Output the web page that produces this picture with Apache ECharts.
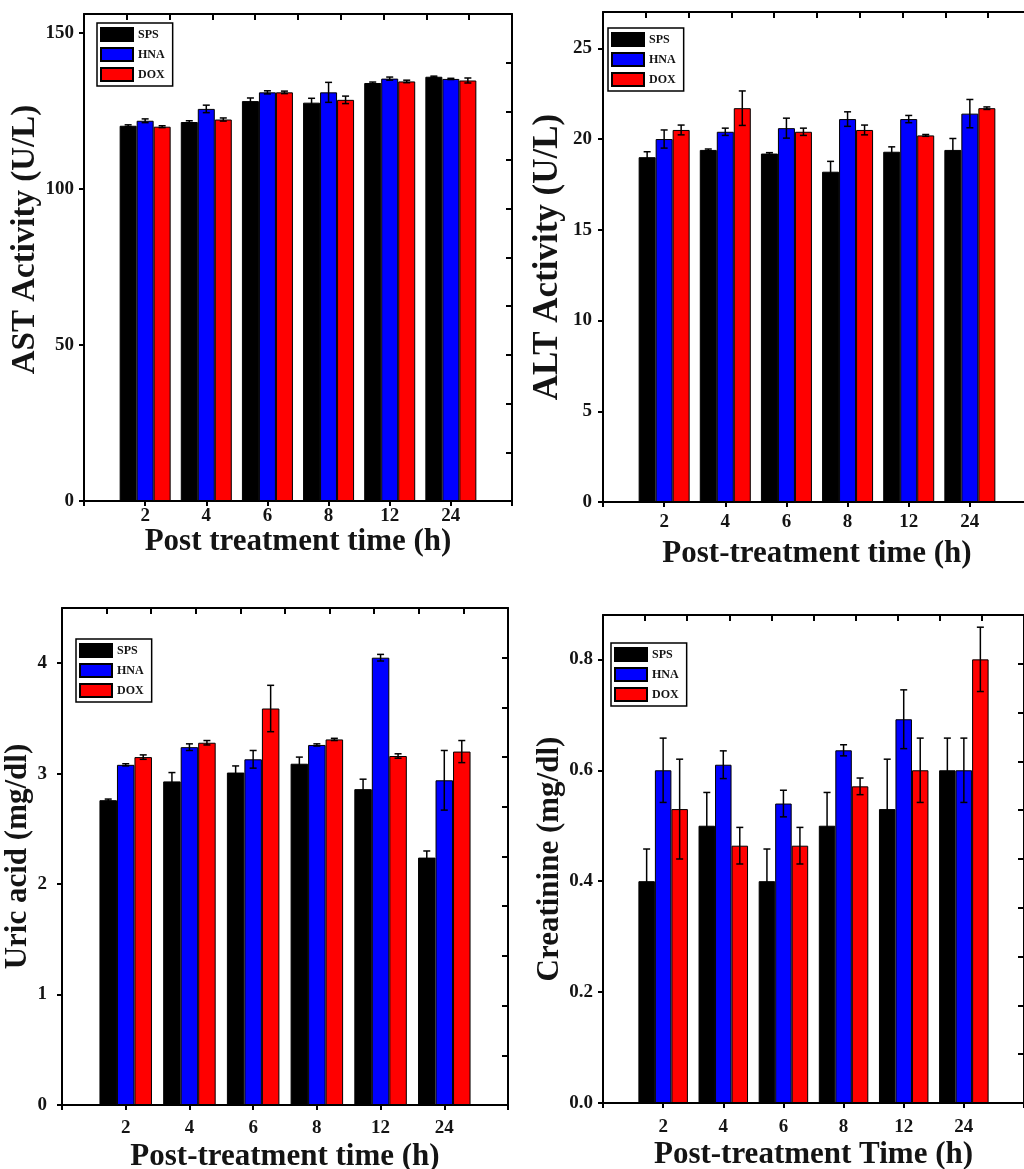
<!DOCTYPE html>
<html><head><meta charset="utf-8">
<script src="https://cdn.jsdelivr.net/npm/echarts@6/dist/echarts.min.js"></script>
<style>html,body{margin:0;padding:0;background:#fff}#c{width:1024px;height:1169px}</style>
</head><body><div id="c"></div>
<script>
// ---- data ----
const categories = ['2', '4', '6', '8', '12', '24'];
const groups = ['SPS', 'HNA', 'DOX'];

const astSPS = [120.2, 121.4, 128.1, 127.6, 133.9, 135.9];
const astHNA = [121.8, 125.6, 130.9, 130.9, 135.3, 135.2];
const astDOX = [119.9, 122.2, 130.9, 128.5, 134.4, 134.7];
const astErrSPS = [0.3, 0.4, 1.0, 1.4, 0.3, 0.2];
const astErrHNA = [0.6, 1.2, 0.5, 3.2, 0.5, 0.2];
const astErrDOX = [0.3, 0.5, 0.4, 1.2, 0.4, 0.8];
const astTicks = [0, 50, 100, 150];

const altSPS = [19.0, 19.4, 19.2, 18.2, 19.3, 19.4];
const altHNA = [20.0, 20.4, 20.6, 21.1, 21.1, 21.4];
const altDOX = [20.5, 21.7, 20.4, 20.5, 20.2, 21.7];
const altErrSPS = [0.3, 0.05, 0.05, 0.57, 0.27, 0.63];
const altErrHNA = [0.5, 0.2, 0.55, 0.4, 0.2, 0.78];
const altErrDOX = [0.27, 0.95, 0.2, 0.27, 0.05, 0.07];
const altTicks = [0, 5, 10, 15, 20, 25];

const uricSPS = [2.76, 2.93, 3.01, 3.09, 2.86, 2.24];
const uricHNA = [3.08, 3.24, 3.13, 3.26, 4.05, 2.94];
const uricDOX = [3.15, 3.28, 3.59, 3.31, 3.16, 3.20];
const uricErrSPS = [0.01, 0.08, 0.06, 0.06, 0.09, 0.06];
const uricErrHNA = [0.01, 0.03, 0.08, 0.01, 0.03, 0.27];
const uricErrDOX = [0.02, 0.02, 0.21, 0.01, 0.02, 0.10];
const uricTicks = [0, 1, 2, 3, 4];

const creatSPS = [0.40, 0.50, 0.40, 0.50, 0.53, 0.60];
const creatHNA = [0.60, 0.61, 0.54, 0.636, 0.692, 0.60];
const creatDOX = [0.53, 0.464, 0.464, 0.571, 0.60, 0.80];
const creatErrSPS = [0.058, 0.06, 0.058, 0.06, 0.09, 0.058];
const creatErrHNA = [0.058, 0.025, 0.024, 0.01, 0.053, 0.058];
const creatErrDOX = [0.09, 0.033, 0.033, 0.015, 0.058, 0.058];
const creatTicks = [0, 0.2, 0.4, 0.6, 0.8];

// frame (top / right) axes: 10 equal divisions
const frameSlots = ['f0', 'f1', 'f2', 'f3', 'f4', 'f5', 'f6', 'f7', 'f8', 'f9', 'f10'];

// ---- style ----
const FONT = '"Liberation Serif", "Times New Roman", serif';
const TXT = '#141414';
const colors = ['#000000', '#0000FF', '#FF0000'];

const panels = [
  { grid: {left: 84, top: 14, width: 428, height: 487}, yMax: 156, ticks: astTicks, dec: 0,
    vals: [astSPS, astHNA, astDOX], errs: [astErrSPS, astErrHNA, astErrDOX],
    yName: 'AST Activity (U/L)', xName: 'Post treatment time (h)', yGap: 36, xGap: 22,
    yFont: 33, yShift: 36,
    xMargin: 6, yMargin: 10, barW: 17, legend: {left: 97, top: 23} },
  { grid: {left: 603, top: 12, width: 428, height: 490}, yMax: 27, ticks: altTicks, dec: 0,
    vals: [altSPS, altHNA, altDOX], errs: [altErrSPS, altErrHNA, altErrDOX],
    yName: 'ALT Activity (U/L)', xName: 'Post-treatment time (h)', yGap: 38, xGap: 36,
    yFont: 35, yShift: 0,
    xMargin: 11, yMargin: 11, barW: 17, legend: {left: 608, top: 28} },
  { grid: {left: 62, top: 608, width: 446, height: 497}, yMax: 4.5, ticks: uricTicks, dec: 0,
    vals: [uricSPS, uricHNA, uricDOX], errs: [uricErrSPS, uricErrHNA, uricErrDOX],
    yName: 'Uric acid (mg/dl)', xName: 'Post-treatment time (h)', yGap: 22, xGap: 36,
    yFont: 31, yShift: 0,
    xMargin: 14, yMargin: 15, barW: 17.5, legend: {left: 76, top: 639} },
  { grid: {left: 603, top: 615, width: 421, height: 488}, yMax: 0.88, ticks: creatTicks, dec: 1,
    vals: [creatSPS, creatHNA, creatDOX], errs: [creatErrSPS, creatErrHNA, creatErrDOX],
    yName: 'Creatinine (mg/dl)', xName: 'Post-treatment Time (h)', yGap: 38, xGap: 36,
    yFont: 31, yShift: 0,
    xMargin: 15, yMargin: 10, barW: 16.5, legend: {left: 611, top: 643} }
];

const axisLine = {show: true, onZero: false, lineStyle: {color: '#000', width: 2}};
const tickStyle = {color: '#000', width: 2};
const labelFont = {fontFamily: FONT, fontWeight: 'bold', fontSize: 19, color: TXT};
const titleFont = {fontFamily: FONT, fontWeight: 'bold', fontSize: 31, color: TXT};

const option = {
  backgroundColor: '#fff', animation: false,
  grid: [], xAxis: [], yAxis: [], legend: [], series: []
};

function errRenderer(offset) {
  return function (params, api) {
    const x = api.value(0), y = api.value(1), e = api.value(2);
    const hi = api.coord([x, y + e]);
    const lo = api.coord([x, y - e]);
    const cx = hi[0] + offset;
    const st = {stroke: '#000', lineWidth: 1.5};
    const cap = 3.5;
    return {type: 'group', children: [
      {type: 'line', shape: {x1: cx, y1: hi[1], x2: cx, y2: lo[1]}, style: st},
      {type: 'line', shape: {x1: cx - cap, y1: hi[1], x2: cx + cap, y2: hi[1]}, style: st},
      {type: 'line', shape: {x1: cx - cap, y1: lo[1], x2: cx + cap, y2: lo[1]}, style: st}
    ]};
  };
}

panels.forEach((p, i) => {
  option.grid.push(Object.assign({outerBoundsMode: 'none', containLabel: false}, p.grid));
  // bottom category axis
  option.xAxis.push({
    type: 'category', gridIndex: i, position: 'bottom', boundaryGap: false,
    data: [''].concat(categories, [' ']),
    axisLine: axisLine,
    axisTick: {show: true, interval: 0, length: 5, inside: false, lineStyle: tickStyle},
    axisLabel: Object.assign({interval: 0, margin: p.xMargin}, labelFont),
    splitLine: {show: false},
    name: p.xName, nameLocation: 'middle', nameGap: p.xGap, nameTextStyle: titleFont
  });
  // top frame axis (inward ticks)
  option.xAxis.push({
    type: 'category', gridIndex: i, position: 'top', boundaryGap: false,
    data: frameSlots,
    axisLine: axisLine,
    axisTick: {show: true, interval: 0, inside: true, length: 6, lineStyle: tickStyle},
    axisLabel: {show: false}, splitLine: {show: false}
  });
  // left value axis
  option.yAxis.push({
    type: 'value', gridIndex: i, position: 'left', min: 0, max: p.yMax,
    axisLine: axisLine,
    axisTick: {show: true, inside: false, length: 5, lineStyle: tickStyle, customValues: p.ticks},
    axisLabel: Object.assign({margin: p.yMargin, customValues: p.ticks,
      formatter: v => Number(v).toFixed(p.dec)}, labelFont),
    splitLine: {show: false},
    name: p.yName, nameLocation: 'middle', nameGap: p.yGap,
    nameTextStyle: Object.assign({}, titleFont, {fontSize: p.yFont, padding: [0, 0, 0, p.yShift]})
  });
  // right frame axis (inward ticks)
  option.yAxis.push({
    type: 'category', gridIndex: i, position: 'right', boundaryGap: false,
    data: frameSlots,
    axisLine: axisLine,
    axisTick: {show: true, interval: 0, inside: true, length: 6, lineStyle: tickStyle},
    axisLabel: {show: false}, splitLine: {show: false}
  });
  option.legend.push({
    data: groups, left: p.legend.left, top: p.legend.top, orient: 'vertical',
    icon: 'rect', itemWidth: 32, itemHeight: 13, itemGap: 5,
    padding: [4, 8, 4, 3], borderColor: '#000', borderWidth: 1.5,
    selectedMode: false,
    textStyle: {fontFamily: FONT, fontWeight: 'bold', fontSize: 12, color: TXT, padding: [0, 0, 0, 0]}
  });
  groups.forEach((g, k) => {
    option.series.push({
      type: 'bar', name: g, xAxisIndex: 2 * i, yAxisIndex: 2 * i,
      data: ['-'].concat(p.vals[k], ['-']),
      barWidth: p.barW, barGap: '0%',
      itemStyle: {color: colors[k], borderColor: '#000', borderWidth: 1},
      z: 2
    });
  });
  groups.forEach((g, k) => {
    option.series.push({
      type: 'custom', name: g + ' error', xAxisIndex: 2 * i, yAxisIndex: 2 * i,
      data: p.vals[k].map((v, j) => [j + 1, v, p.errs[k][j]]),
      encode: {x: 0, y: 1},
      renderItem: errRenderer((k - 1) * p.barW),
      z: 5, silent: true
    });
  });
});

const chart = echarts.init(document.getElementById('c'), null, {renderer: 'canvas'});
chart.setOption(option);
</script>
</body></html>
